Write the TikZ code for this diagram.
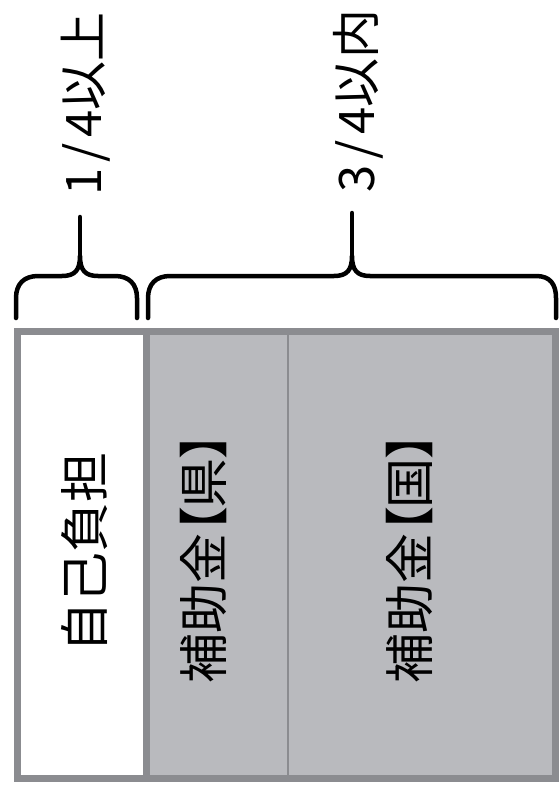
\documentclass[tikz,border=0pt]{standalone}
\usepackage{fontspec}
\setmainfont{Noto Sans CJK JP}
\newfontfamily\paltfont{Noto Sans CJK JP}[RawFeature=+palt]
\usepackage{tikz}
\usetikzlibrary{positioning}
\definecolor{cellgray}{HTML}{B9BABE}
\definecolor{framegray}{HTML}{8B8C90}
\tikzset{
  brace/.style={line width=4.5pt, black, line cap=round, line join=round},
  celltext/.style={rotate=90, inner sep=0pt, font=\paltfont\fontsize{50}{60}\selectfont},
  sharetext/.style={rotate=90, inner sep=0pt, font=\fontsize{49}{60}\selectfont}
}

\begin{document}
\begin{tikzpicture}[x=1pt, y=-1pt]
	\useasboundingbox (0,0) rectangle (558,789);
	\fill[white] (0,0) rectangle (558,789);
	% cells
	\fill[cellgray] (146.5,331.5) rectangle (555,778.5);
	\draw[framegray, line width=7pt] (17,331.5) rectangle (555,778.5);
	\draw[framegray, line width=7pt] (146.5,331.5) -- (146.5,778.5);
	\draw[framegray, line width=2pt] (288,335) -- (288,775);
	\node[celltext] (own) at (85,552) {自己負担};
	\node[celltext] (pref) at (203,558) {補助金【県】};
	\node[celltext] (nat) at (409,558) {補助金【国】};
	% braces
	\coordinate (lcusp) at (80,256);
	\coordinate (ltip) at (80,217);
	\coordinate (rcusp) at (352,256);
	\coordinate (rtip) at (352,213);
	\draw[brace] (16,318) -- (16,298) .. controls (16,284) and (24,276) .. (38,276) -- (62,276)
		.. controls (75,276) and (80,270) .. (lcusp) .. controls (80,270) and (85,276) .. (98,276)
		-- (115,276) .. controls (129,276) and (137,284) .. (137,298) -- (137,318);
	\draw[brace] (lcusp) -- (ltip);
	\draw[brace] (148,318) -- (148,298) .. controls (148,284) and (156,276) .. (170,276) -- (334,276)
		.. controls (347,276) and (352,270) .. (rcusp) .. controls (352,270) and (357,276) .. (370,276)
		-- (536,276) .. controls (550,276) and (556,284) .. (556,298) -- (556,318);
	\draw[brace] (rcusp) -- (rtip);
	\node[sharetext] (quarter) at (86,104) {1\kern6pt/\kern6pt4以上};
	\node[sharetext] (threeq) at (358,101) {3\kern6pt/\kern6pt4以内};
\end{tikzpicture}
\end{document}
